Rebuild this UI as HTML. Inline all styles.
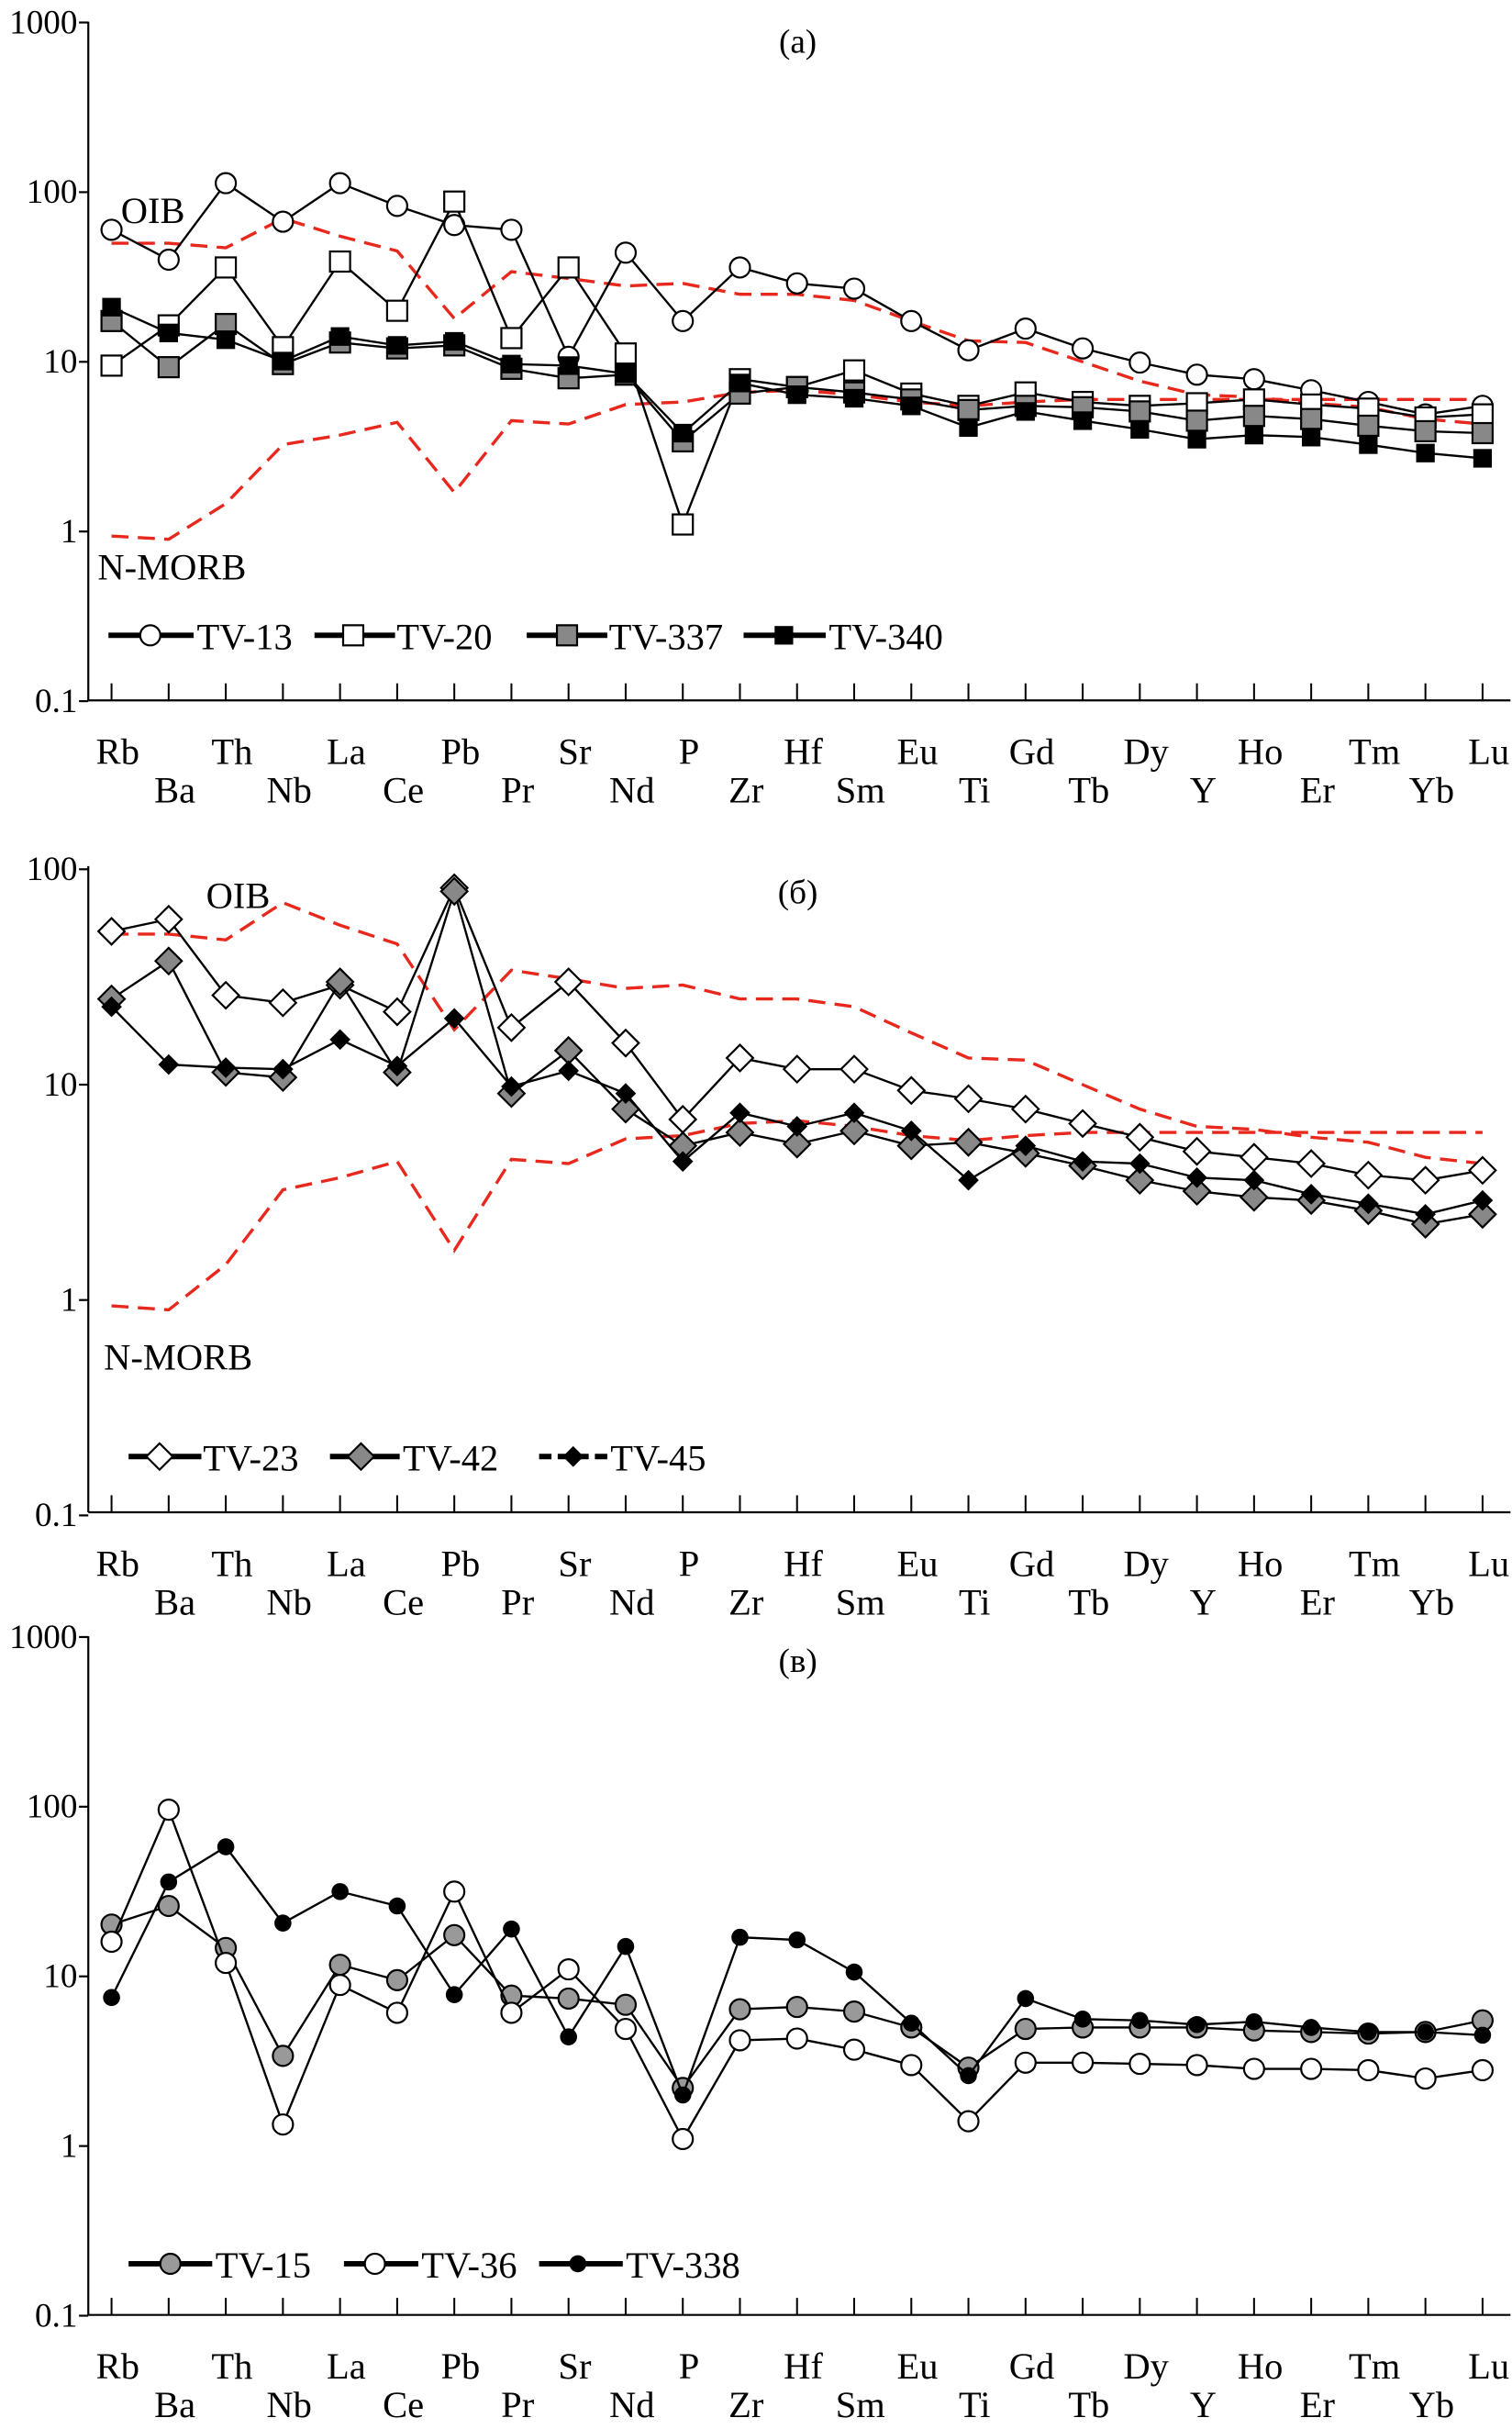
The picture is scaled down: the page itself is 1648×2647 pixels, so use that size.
<!DOCTYPE html>
<html><head><meta charset="utf-8"><style>
html,body{margin:0;padding:0;background:#fff}
svg{display:block}
text{font-family:"Liberation Serif",serif;fill:#000}
</style></head><body>
<svg id="chart" width="1648" height="2647" viewBox="0 0 976 1567.6" xmlns="http://www.w3.org/2000/svg"></svg>
<script>
const elements=["Rb","Ba","Th","Nb","La","Ce","Pb","Pr","Sr","Nd","P","Zr","Hf","Sm","Eu","Ti","Gd","Tb","Dy","Y","Ho","Er","Tm","Yb","Lu"];
const oibValues=[50,50,47,70,55,45,18,34,31,28,29,25,25,23,17.4,13.3,13,10,7.7,6.4,6.2,5.7,5.4,4.6,4.3];
const nmorbValues=[0.94,0.9,1.46,3.25,3.7,4.4,1.7,4.5,4.3,5.6,5.8,6.6,6.8,6.4,5.8,5.5,5.8,6,6,6,6,6,6,6,6];
const tv13=[60,40,113,67,113,83,64,60,10.7,44,17.4,36,29,27,17.4,11.7,15.7,12,9.9,8.4,7.9,6.8,5.8,4.9,5.5];
const tv20=[9.5,16.4,36,12.2,39,20,88,13.8,36,11.2,1.1,7.9,7.1,8.9,6.5,5.5,6.6,5.8,5.5,5.7,6,5.6,5.3,4.7,4.9];
const tv337=[17.4,9.3,16.7,9.7,13,12,12.5,9.1,8,8.4,3.4,6.5,7.1,6.6,6,5.2,5.5,5.4,5.1,4.5,4.8,4.6,4.2,3.9,3.8];
const tv340=[21,14.8,13.5,10.1,14.1,12.5,13.2,9.7,9.5,8.5,3.8,7.5,6.4,6.1,5.5,4.1,5.1,4.5,4,3.5,3.7,3.6,3.25,2.9,2.7];
const tv23=[51.5,58.6,26,24,29,21.8,82,18.4,30,15.6,6.9,13.3,11.8,11.8,9.4,8.6,7.7,6.6,5.7,4.9,4.6,4.3,3.8,3.6,4.0];
const tv42=[25,37.5,11.4,10.8,30,11.4,79,9.1,14.4,7.7,5.2,6,5.3,6.1,5.2,5.4,4.8,4.2,3.6,3.2,3.0,2.9,2.6,2.25,2.5];
const tv45=[23,12.4,12,11.8,16.2,12.2,20.3,9.8,11.6,9.1,4.4,7.4,6.4,7.4,6.1,3.6,5.2,4.4,4.3,3.7,3.6,3.1,2.8,2.5,2.9];
const tv15=[20.2,26,14.7,3.4,11.7,9.5,17.5,7.7,7.4,6.8,2.2,6.4,6.6,6.2,5,2.9,4.9,5,5,5,4.8,4.7,4.6,4.7,5.5];
const tv36=[16,96,12,1.34,8.9,6.1,31.6,6.1,11,4.9,1.1,4.2,4.3,3.7,3,1.4,3.1,3.1,3.05,3,2.85,2.85,2.8,2.5,2.8];
const tv338=[7.5,36,58,20.6,31.6,26,7.8,19,4.4,15,2,17,16.4,10.6,5.3,2.6,7.4,5.6,5.5,5.2,5.4,5.0,4.7,4.7,4.5];
const tickLabelsA=["1000","100","10","1","0.1"];
const tickLabelsB=["100","10","1","0.1"];

const NS="http://www.w3.org/2000/svg";
const svg=document.getElementById('chart');
function mk(tag,attrs,parent){const e=document.createElementNS(NS,tag);for(const k in attrs)e.setAttribute(k,attrs[k]);(parent||svg).appendChild(e);return e;}
const X0=72,DX=(957-72)/24,AXL=57,AXR=975;
function xs(i){return X0+i*DX;}

function marker(g,type,x,y){
  let e;
  if(type==='circle'){e=mk('circle',{cx:x,cy:y,r:6.5,fill:'#fff',stroke:'#000','stroke-width':1.3},g);}
  else if(type==='osq'){e=mk('rect',{x:x-6.5,y:y-6.5,width:13,height:13,fill:'#fff',stroke:'#000','stroke-width':1.3},g);}
  else if(type==='gsq'){e=mk('rect',{x:x-6.5,y:y-6.5,width:13,height:13,fill:'#888',stroke:'#000','stroke-width':1.3},g);}
  else if(type==='bsq'){e=mk('rect',{x:x-5.5,y:y-5.5,width:11,height:11,fill:'#000',stroke:'#000','stroke-width':1},g);}
  else if(type==='odia'){e=mk('path',{d:`M${x} ${y-8.5}L${x+8.5} ${y}L${x} ${y+8.5}L${x-8.5} ${y}Z`,fill:'#fff',stroke:'#000','stroke-width':1.3},g);}
  else if(type==='gdia'){e=mk('path',{d:`M${x} ${y-8.5}L${x+8.5} ${y}L${x} ${y+8.5}L${x-8.5} ${y}Z`,fill:'#888',stroke:'#000','stroke-width':1.3},g);}
  else if(type==='bdia'){e=mk('path',{d:`M${x} ${y-6}L${x+6} ${y}L${x} ${y+6}L${x-6} ${y}Z`,fill:'#000',stroke:'#000','stroke-width':1},g);}
  else if(type==='gcirc'){e=mk('circle',{cx:x,cy:y,r:6.5,fill:'#999',stroke:'#000','stroke-width':1.3},g);}
  else if(type==='bcirc'){e=mk('circle',{cx:x,cy:y,r:5.5,fill:'#000'},g);}
  
  
}

function panel(cfg){
  const g=mk('g',{});
  
  
  const ys=v=>cfg.yOne-Math.log10(v)*cfg.dec;
  // axes
  const ya=mk('line',{x1:AXL,y1:cfg.yTop,x2:AXL,y2:cfg.yBot,stroke:'#000','stroke-width':1.3},g);
  
  const xa=mk('line',{x1:AXL,y1:cfg.yBot,x2:AXR,y2:cfg.yBot,stroke:'#000','stroke-width':1.3},g);
  
  cfg.ticks.forEach((t,i)=>{
    const y=ys(parseFloat(t));
    mk('line',{x1:AXL-6,y1:y,x2:AXL,y2:y,stroke:'#000','stroke-width':1.3},g);
    const tx=mk('text',{x:50,y:y+7,'text-anchor':'end','font-size':22},g);
    tx.textContent=t;
    
  });
  elements.forEach((el,i)=>{
    const x=xs(i);
    mk('line',{x1:x,y1:cfg.yBot-11,x2:x,y2:cfg.yBot,stroke:'#000','stroke-width':1.2},g);
    const t=mk('text',{x:x+4,y:cfg.yBot+(i%2===0?41:66),'text-anchor':'middle','font-size':24},g);
    t.textContent=el;
    
  });
  const tt=mk('text',{x:515,y:cfg.titleY,'text-anchor':'middle','font-size':22},g);
  tt.textContent=cfg.title;
  if(cfg.refs){
    [[oibValues,'oib-reference-line'],[nmorbValues,'n-morb-reference-line']].forEach(([arr,nm])=>{
      const p=mk('polyline',{points:arr.map((v,i)=>xs(i)+','+ys(v)).join(' '),fill:'none',stroke:'#e8281c','stroke-width':2,'stroke-dasharray':'11,6'},g);
      
    });
    const o=mk('text',{x:cfg.oibLbl[0],y:cfg.oibLbl[1],'font-size':24},g);o.textContent='OIB';
    
    const n=mk('text',{x:cfg.nLbl[0],y:cfg.nLbl[1],'font-size':24},g);n.textContent='N-MORB';
    
  }
  cfg.series.forEach(s=>{
    const sg=mk('g',{},g);
    
    
    mk('polyline',{points:s.data.map((v,i)=>xs(i)+','+ys(v)).join(' '),fill:'none',stroke:'#000','stroke-width':1.4},sg);
    s.data.forEach((v,i)=>marker(sg,s.m,xs(i),ys(v)));
    // legend
    const lg=mk('g',{},g);
    
    
    const [a,b,mx,tx]=s.leg;
    mk('line',{x1:a,y1:cfg.legY,x2:b,y2:cfg.legY,stroke:'#000','stroke-width':3.5,'stroke-dasharray':s.dash||'none'},lg);
    marker(lg,s.m,mx,cfg.legY);
    const t=mk('text',{x:tx,y:cfg.legY+9,'font-size':24},lg);t.textContent=s.label;
  });
}

panel({name:'panel-a',yTop:14,yBot:452,yOne:343,dec:109.5,ticks:tickLabelsA,title:'(a)',titleY:34,refs:true,
  oibLbl:[78,144],nLbl:[63,374],legY:410,
  series:[
   {label:'TV-13',data:tv13,m:'circle',leg:[70,125,97,127]},
   {label:'TV-20',data:tv20,m:'osq',leg:[203,255,228,256]},
   {label:'TV-337',data:tv337,m:'gsq',leg:[340,392,366,393]},
   {label:'TV-340',data:tv340,m:'bsq',leg:[480,533,506,535]}
  ]});
panel({name:'panel-b',yTop:559,yBot:976,yOne:839,dec:139,ticks:tickLabelsB,title:'(б)',titleY:583,refs:true,
  oibLbl:[133,586],nLbl:[67,884],legY:940,
  series:[
   {label:'TV-23',data:tv23,m:'odia',leg:[83,130,103,131]},
   {label:'TV-42',data:tv42,m:'gdia',leg:[213,258,233,260]},
   {label:'TV-45',data:tv45,m:'bdia',leg:[348,392,370,394],dash:'8,4'}
  ]});
panel({name:'panel-c',yTop:1056,yBot:1494,yOne:1385,dec:109.5,ticks:tickLabelsA,title:'(в)',titleY:1079,refs:false,
  legY:1461,
  series:[
   {label:'TV-15',data:tv15,m:'gcirc',leg:[83,137,110,139]},
   {label:'TV-36',data:tv36,m:'circle',leg:[222,270,242,272]},
   {label:'TV-338',data:tv338,m:'bcirc',leg:[348,402,373,404]}
  ]});
</script>
</body></html>
